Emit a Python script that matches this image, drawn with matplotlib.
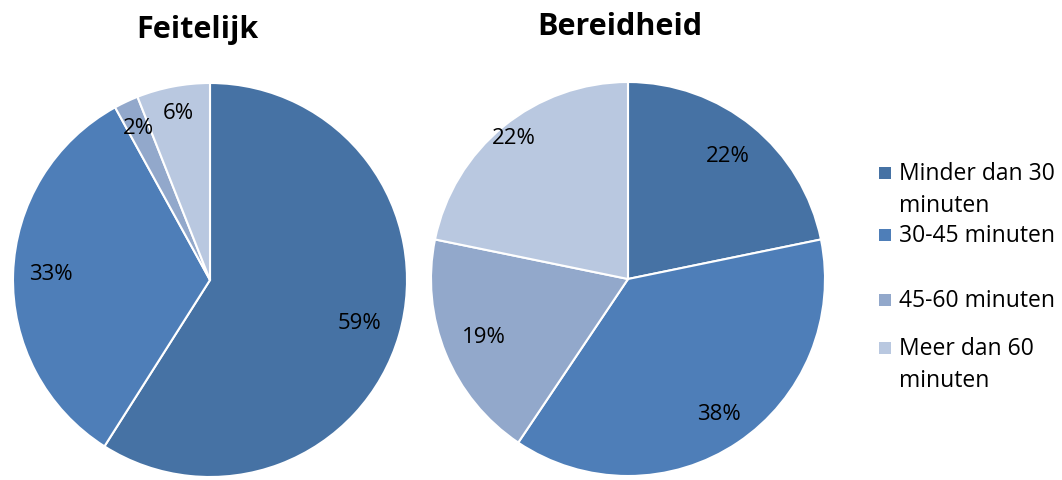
import numpy as np
import matplotlib
matplotlib.use("Agg")
import matplotlib.pyplot as plt
from matplotlib.patches import Rectangle

plt.rcParams["font.family"] = ["Open Sans", "DejaVu Sans"]

# ── Data ──────────────────────────────────────────────────────────────────────
categories = ["Minder dan 30\nminuten", "30-45 minuten", "45-60 minuten", "Meer dan 60\nminuten"]
feitelijk = [59, 33, 2, 6]
bereidheid = [22, 38, 19, 22]
titles = ["Feitelijk", "Bereidheid"]
colors = ["#4672A4", "#4E7EB8", "#92A8CB", "#B9C8E0"]

# label radial position (fraction of radius) per slice
label_dist_left = [0.79, 0.81, 0.85, 0.86]
label_dist_right = [0.80, 0.83, 0.79, 0.92]

W, H = 1062, 480
fig = plt.figure(figsize=(W / 100, H / 100), dpi=100)


def draw_pie(center, radius, values, dists, title, title_xy):
    cx, cy = center
    ax = fig.add_axes([(cx - radius) / W, (H - cy - radius) / H, 2 * radius / W, 2 * radius / H])
    wedges, _ = ax.pie(values, colors=colors, startangle=90, counterclock=False,
                       radius=1, wedgeprops=dict(edgecolor="white", linewidth=1.5))
    total = sum(values)
    for w, v, d in zip(wedges, values, dists):
        mid = np.deg2rad((w.theta1 + w.theta2) / 2)
        ax.text(d * np.cos(mid), d * np.sin(mid), f"{round(100 * v / total)}%",
                ha="center", va="center", fontsize=16, color="#000000")
    ax.set_xlim(-1, 1)
    ax.set_ylim(-1, 1)
    ax.set_aspect("equal")
    ax.axis("off")
    fig.text(title_xy[0] / W, 1 - title_xy[1] / H, title, ha="center", va="baseline",
             fontsize=22, fontweight="bold")


draw_pie((210, 280), 197, feitelijk, label_dist_left, titles[0], (197, 38))
draw_pie((628, 279), 197, bereidheid, label_dist_right, titles[1], (620, 35))

# ── Legend ────────────────────────────────────────────────────────────────────
legend_baseline = [180, 242, 307, 355]
line_gap = 32
for lab, col, y in zip(categories, colors, legend_baseline):
    fig.patches.append(Rectangle((879 / W, 1 - (y - 1) / H), 12 / W, 12 / H,
                                 transform=fig.transFigure, facecolor=col, edgecolor="none"))
    for i, line in enumerate(lab.split("\n")):
        fig.text(899 / W, 1 - (y + i * line_gap) / H, line, ha="left", va="baseline",
                 fontsize=16.5)

fig.savefig("out.png", dpi=100)
